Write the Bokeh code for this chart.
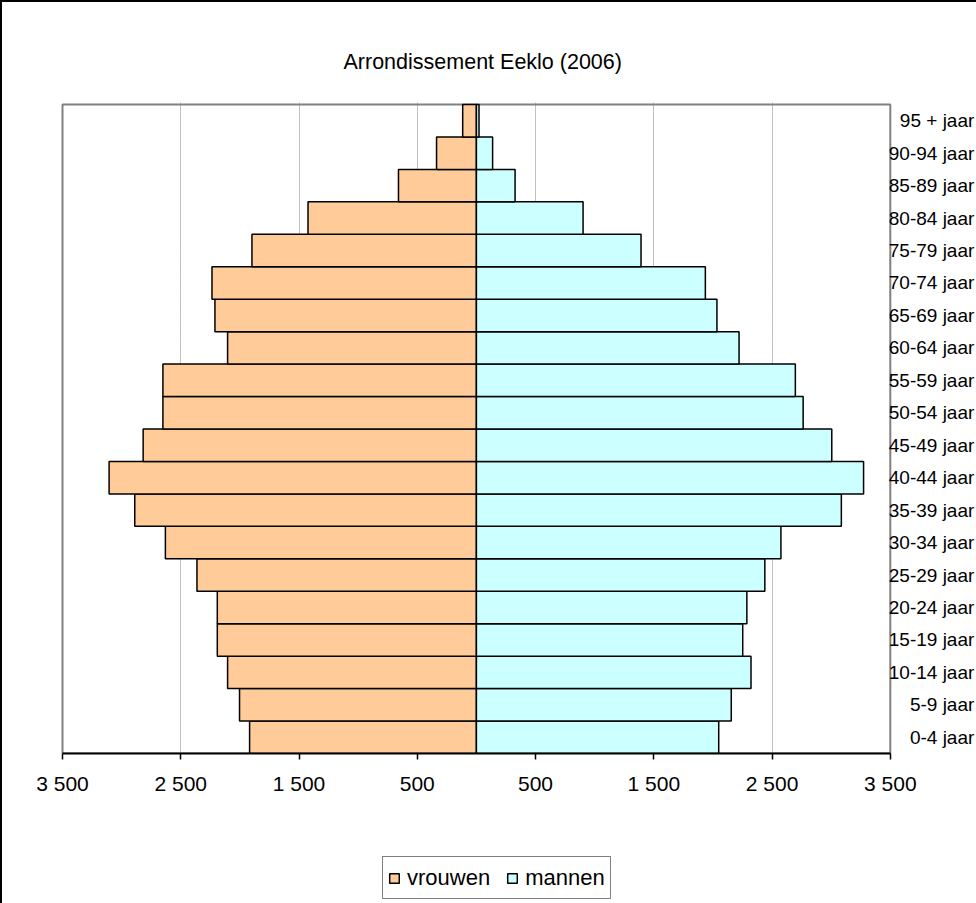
from bokeh.plotting import figure
from bokeh.layouts import column
from bokeh.models import (Range1d, FixedTicker, ColumnDataSource, Legend,
                          LegendItem, Title)
from bokeh.core.properties import value
from bokeh.embed import file_html
from bokeh.resources import INLINE

# ---- data ----
age_groups = ["0-4 jaar", "5-9 jaar", "10-14 jaar", "15-19 jaar", "20-24 jaar",
              "25-29 jaar", "30-34 jaar", "35-39 jaar", "40-44 jaar", "45-49 jaar",
              "50-54 jaar", "55-59 jaar", "60-64 jaar", "65-69 jaar", "70-74 jaar",
              "75-79 jaar", "80-84 jaar", "85-89 jaar", "90-94 jaar", "95 + jaar"]
vrouwen = [1918, 2003, 2104, 2191, 2191, 2363, 2630, 2889, 3106, 2818,
           2651, 2651, 2104, 2211, 2236, 1898, 1424, 659, 337, 116]
mannen = [2049, 2155, 2322, 2252, 2287, 2439, 2575, 3086, 3274, 3005,
          2763, 2697, 2221, 2034, 1936, 1392, 902, 327, 137, 22]
tick_values = [-3500, -2500, -1500, -500, 500, 1500, 2500, 3500]
tick_labels = ["3 500", "2 500", "1 500", "500", "500", "1 500", "2 500", "3 500"]
title_text = "Arrondissement Eeklo (2006)"
series_names = ["vrouwen", "mannen"]
colors = ["#FFCC99", "#CCFFFF"]

FONT = "Liberation Sans"
FS = "21px"

# ---- layout (pixels) ----
AXIS_MIN, AXIS_MAX = tick_values[0], tick_values[-1]
PLOT_W = 826            # width of the -3500..3500 plot area
PLOT_H = 647            # height of the category area
PAD = 2                 # extra pixels of frame left/top so border lines are not clipped
FRAME_W = 916
FRAME_H = PLOT_H + PAD
sx = PLOT_W / (AXIS_MAX - AXIS_MIN)
x_start = AXIS_MIN - PAD / sx
x_end = x_start + FRAME_W / sx
n = len(age_groups)
sy = PLOT_H / n
y_start = -0.5
y_end = n - 0.5 + PAD / sy

idx = list(range(n))
src = ColumnDataSource(dict(
    y=idx,
    w_left=[-v for v in vrouwen],
    zero=[0] * n,
    m_right=mannen,
    label=age_groups,
    lx=[AXIS_MAX] * n,
))

p = figure(frame_width=FRAME_W, frame_height=FRAME_H,
           min_border_left=58, min_border_right=0, min_border_top=100, min_border_bottom=90,
           x_range=Range1d(x_start, x_end), y_range=Range1d(y_start, y_end),
           output_backend="svg", toolbar_location=None, title=None)
p.styles = {"border-left": "2px solid black", "border-top": "2px solid black"}
p.background_fill_color = "white"
p.border_fill_color = "white"
p.outline_line_color = None

t = Title(text=title_text, align="left", offset=283, text_font=FONT,
          text_font_size="21.5px", text_font_style="normal", text_color="black",
          standoff=58)
p.add_layout(t, "above")

# grid
p.xgrid.ticker = FixedTicker(ticks=tick_values[1:-1])
p.xgrid.grid_line_color = "#808080"
p.xgrid.grid_line_dash = "1 1"
p.xgrid.grid_line_width = 1
p.ygrid.visible = False

# grey plot-area border
p.quad(left=[AXIS_MIN], right=[AXIS_MAX], bottom=[y_start], top=[n - 0.5],
       fill_color=None, line_color="#808080", line_width=2)

p.hbar(y="y", left="w_left", right="zero", height=1, source=src,
       fill_color=colors[0], line_color="black", line_width=1.5)
p.hbar(y="y", left="zero", right="m_right", height=1, source=src,
       fill_color=colors[1], line_color="black", line_width=1.5)

# category labels at the right of the plot area
p.text(x="lx", y="y", text="label", source=src, x_offset=84,
       text_align="right", text_baseline="middle",
       text_font=value(FONT), text_font_size=value("19px"), text_color="black")

# axes
p.yaxis.visible = False
xa = p.xaxis[0]
xa.bounds = (AXIS_MIN, AXIS_MAX)
xa.ticker = FixedTicker(ticks=tick_values)
xa.major_label_overrides = {v: l for v, l in zip(tick_values, tick_labels)}
xa.axis_line_color = "black"
xa.axis_line_width = 2
xa.major_tick_line_color = "black"
xa.major_tick_line_width = 1.5
xa.major_tick_out = 6
xa.major_tick_in = 0
xa.minor_tick_line_color = None
xa.major_label_standoff = 12
xa.major_label_text_font = FONT
xa.major_label_text_font_size = FS
xa.major_label_text_color = "black"

# ---- legend strip below the chart ----
LEG_H = 901 - (100 + FRAME_H + 90)
p2 = figure(frame_width=58 + FRAME_W, frame_height=LEG_H,
            min_border_left=0, min_border_right=0, min_border_top=0, min_border_bottom=0,
            x_range=Range1d(0, 1), y_range=Range1d(0, 1),
            output_backend="svg", toolbar_location=None, title=None)
p2.styles = {"border-left": "2px solid black"}
p2.axis.visible = False
p2.grid.visible = False
p2.outline_line_color = None
p2.background_fill_color = "white"
p2.border_fill_color = "white"
# same series, hidden here; they only provide the legend swatches
lw = p2.hbar(y="y", left="w_left", right="zero", height=1, source=src,
             fill_color=colors[0], line_color="black", line_width=1.5, visible=False)
lm = p2.hbar(y="y", left="zero", right="m_right", height=1, source=src,
             fill_color=colors[1], line_color="black", line_width=1.5, visible=False)

legend = Legend(items=[LegendItem(label=series_names[0], renderers=[lw]),
                       LegendItem(label=series_names[1], renderers=[lm])],
                orientation="horizontal", location=(380, 4),
                glyph_width=12, glyph_height=12, label_standoff=7, spacing=16,
                padding=5, margin=0, label_height=31,
                label_text_font=FONT, label_text_font_size="22px",
                label_text_color="black",
                border_line_color="black", border_line_width=1.5,
                background_fill_color="white", background_fill_alpha=1,
                inactive_fill_alpha=0)
p2.add_layout(legend, "center")

layout = column(p, p2, spacing=0)
open("out.html", "w").write(file_html(layout, INLINE))
